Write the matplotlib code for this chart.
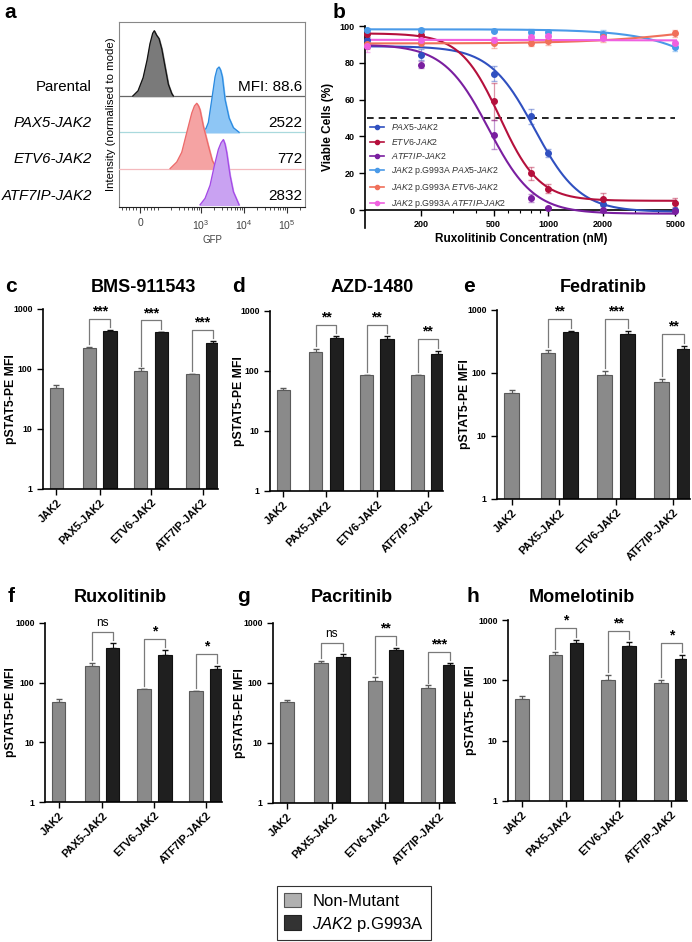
import numpy as np
import matplotlib

matplotlib.use("Agg")

import matplotlib.pyplot as plt
import matplotlib.transforms as mtransforms
from matplotlib.lines import Line2D
from matplotlib.patches import Patch
from matplotlib.ticker import LogLocator, NullFormatter, NullLocator

plt.rcParams["font.family"] = ["Liberation Sans", "DejaVu Sans"]
plt.rcParams["mathtext.fontset"] = "custom"
plt.rcParams["mathtext.rm"] = "Liberation Sans"
plt.rcParams["mathtext.it"] = "Liberation Sans:italic"
plt.rcParams["mathtext.bf"] = "Liberation Sans:bold"

W, H = 692, 942

# ---- panel a: GFP histograms (normalised to mode) ----
hist_names = ["Parental", "PAX5-JAK2", "ETV6-JAK2", "ATF7IP-JAK2"]
hist_mfi = ["MFI: 88.6", "2522", "772", "2832"]
parental_gfp = [-40, -11, 17, 39, 55, 70, 79, 92, 105, 122, 145, 173, 207, 226]
parental_h = [0, 0.08, 0.28, 0.55, 0.8, 0.96, 1.0, 0.93, 0.88, 0.72, 0.45, 0.18, 0.04, 0]
pax5_gfp = [1069, 1300, 1472, 1767, 2109, 2350, 2612, 2850, 3119, 3606, 4467, 5623, 7621]
pax5_h = [0, 0.06, 0.15, 0.5, 0.85, 0.97, 1.0, 0.95, 0.85, 0.5, 0.22, 0.07, 0]
etv6_gfp = [190, 271, 355, 463, 606, 700, 792, 870, 944, 1127, 1472, 1824, 2312]
etv6_h = [0, 0.1, 0.25, 0.55, 0.85, 0.96, 1.0, 0.96, 0.9, 0.65, 0.35, 0.12, 0]
atf7ip_gfp = [944, 1236, 1614, 2032, 2518, 2900, 3289, 3600, 3945, 4710, 5623, 7621]
atf7ip_h = [0, 0.1, 0.3, 0.6, 0.85, 0.95, 1.0, 0.93, 0.8, 0.45, 0.2, 0]

# ---- panel b: ruxolitinib dose response ----
conc = [100, 200, 500, 800, 1000, 2000, 5000]
dose_labels = [
    r"$\it{PAX5}$-$\it{JAK2}$",
    r"$\it{ETV6}$-$\it{JAK2}$",
    r"$\it{ATF7IP}$-$\it{JAK2}$",
    r"$\it{JAK2}$ p.G993A $\it{PAX5}$-$\it{JAK2}$",
    r"$\it{JAK2}$ p.G993A $\it{ETV6}$-$\it{JAK2}$",
    r"$\it{JAK2}$ p.G993A $\it{ATF7IP}$-$\it{JAK2}$",
]
viable = [
    [92.5, 84.5, 74, 51, 31, 3, 0],
    [95.5, 95, 59, 20, 11.5, 6, 4],
    [89, 79, 41, 6.5, 1, 0, -0.5],
    [98, 98, 97.5, 97, 96.5, 95.5, 88.5],
    [90, 91, 90.5, 91, 92, 94, 96],
    [89, 92.5, 92.5, 94, 94.5, 93.5, 91],
]
viable_err = [
    [1.5, 3, 4, 4, 2, 1, 1],
    [1.5, 2, 10, 3.5, 2.5, 3, 2.5],
    [1, 2, 8, 2, 0.5, 0.5, 0.5],
    [1, 1, 1, 1.5, 1.5, 2.5, 2],
    [2.5, 2, 2.5, 2, 2.5, 2.5, 2],
    [3, 1, 1.5, 1, 1, 1, 1],
]
# fitted 4PL parameters: top, bottom, IC50 (nM), hill slope
fit_top = [89, 96, 90, 98.2, 90.5, 92.5]
fit_bottom = [-1, 5, -2, 0, 104, 92]
fit_ic50 = [840, 540, 470, 15000, 7000, 3000]
fit_hill = [3.5, 4, 3.5, 2, 1.5, 1]
dose_colors = ["#3050c0", "#b5103c", "#7a1fa0", "#4a9ae8", "#f0705a", "#f060e0"]

# ---- panels c-h: pSTAT5 MFI ----
groups = ["JAK2", "PAX5-JAK2", "ETV6-JAK2", "ATF7IP-JAK2"]
drugs = ["BMS-911543", "AZD-1480", "Fedratinib", "Ruxolitinib", "Pacritinib", "Momelotinib"]
letters = ["c", "d", "e", "f", "g", "h"]
gray_mfi = [
    [48, 226, 93, 83],
    [48, 210, 86, 85],
    [48, 205, 92, 73],
    [48, 190, 78, 72],
    [48, 213, 109, 82],
    [49, 264, 102, 90],
]
gray_err = [
    [6, 9, 9, 1],
    [5, 23, 1, 2],
    [5, 29, 14, 6],
    [6, 25, 1, 1],
    [5, 22, 15, 9],
    [6, 28, 19, 10],
]
black_mfi = [
    [430, 409, 275],
    [359, 341, 192],
    [443, 416, 240],
    [375, 290, 169],
    [275, 355, 200],
    [422, 377, 224],
]
black_err = [
    [10, 6, 15],
    [24, 42, 26],
    [15, 42, 25],
    [80, 62, 23],
    [25, 33, 13],
    [46, 51, 40],
]
significance = [
    ["***", "***", "***"],
    ["**", "**", "**"],
    ["**", "***", "**"],
    ["ns", "*", "*"],
    ["ns", "**", "***"],
    ["*", "**", "*"],
]


def box(x0, y0, x1, y1):
    return [x0 / W, 1 - y1 / H, (x1 - x0) / W, (y1 - y0) / H]


def fig_text(fig, x, y, s, **kw):
    fig.text(x / W, 1 - y / H, s, **kw)


fig = plt.figure(figsize=(W / 100, H / 100), dpi=100)

# ---------------- panel a ----------------
ax_a = fig.add_axes(box(119, 22, 305, 207))
ax_a.set_xscale("symlog", linthresh=100, linscale=0.378)
ax_a.set_xlim(-117, 2.6e5)
ax_a.set_ylim(-0.06, 5.04)
hist_x = [parental_gfp, pax5_gfp, etv6_gfp, atf7ip_gfp]
hist_y = [parental_h, pax5_h, etv6_h, atf7ip_h]
fills = ["#7a7a7a", "#8ec6f5", "#f5a3a3", "#c9a2f2"]
edges = ["#111111", "#2a8ae0", "#ec6a6a", "#a448e6"]
lane_lines = ["#666666", "#a9d9dd", "#f4b9bd", None]
baselines = [3, 2, 1, 0]
trans = mtransforms.blended_transform_factory(ax_a.transAxes, ax_a.transData)
for i in range(4):
    base = baselines[i]
    if lane_lines[i]:
        ax_a.axhline(base, color=lane_lines[i], lw=0.9, zorder=1 + i)
    top = base + 1.8 * np.array(hist_y[i])
    ax_a.fill_between(hist_x[i], base, top, color=fills[i], zorder=2 + i)
    ax_a.plot(hist_x[i], top, color=edges[i], lw=0.9, zorder=2 + i)
    ax_a.text(-0.145, base + 0.25, hist_names[i], transform=trans, ha="right",
              va="center", fontsize=10.8, fontstyle="normal" if i == 0 else "italic")
    ax_a.text(0.984, base + 0.25, hist_mfi[i], transform=trans, ha="right",
              va="center", fontsize=11)
ax_a.set_xticks([0, 1e3, 1e4, 1e5])
ax_a.set_xticklabels(["0", r"$10^3$", r"$10^4$", r"$10^5$"], fontsize=7.5, color="#444444")
minor = [-100, -80, -60, -40, -20, 20, 40, 60, 80, 100]
minor += [m * d for d in (100, 1000, 10000) for m in range(2, 10)] + [2e5]
ax_a.set_xticks(minor, minor=True)
ax_a.tick_params(axis="x", which="major", length=4, width=0.8, color="#333333", pad=4)
ax_a.tick_params(axis="x", which="minor", length=2, width=0.6, color="#333333")
ax_a.set_yticks([])
for sp in ax_a.spines.values():
    sp.set_color("#888888")
    sp.set_linewidth(0.8)
ax_a.spines["bottom"].set_color("#222222")
ax_a.set_xlabel("GFP", fontsize=7, color="#444444", labelpad=2)
ax_a.set_ylabel("Intensity (normalised to mode)", fontsize=8.2, labelpad=2)

# ---------------- panel b ----------------
ax_b = fig.add_axes(box(365, 26, 677, 228.4))
ax_b.set_xscale("log")
ax_b.set_xlim(98, 5100)
ax_b.set_ylim(-10, 100)
ax_b.spines["bottom"].set_position(("data", 0))
ax_b.spines[["top", "right"]].set_visible(False)
for sp in ("left", "bottom"):
    ax_b.spines[sp].set_linewidth(1.2)
xs = np.geomspace(98, 5100, 300)
handles = []
for i in range(6):
    fit = fit_bottom[i] + (fit_top[i] - fit_bottom[i]) / (1 + (xs / fit_ic50[i]) ** fit_hill[i])
    ax_b.plot(xs, fit, color=dose_colors[i], lw=1.5, zorder=3)
    ax_b.errorbar(conc, viable[i], yerr=viable_err[i], fmt="none", ecolor=dose_colors[i],
                  alpha=0.45, capsize=2.5, elinewidth=0.9, zorder=2)
    ax_b.plot(conc, viable[i], "o", color=dose_colors[i], ms=4, zorder=4, clip_on=False)
    handles.append(Line2D([], [], color=dose_colors[i], lw=1.2, marker="o", ms=3))
ax_b.hlines(50, 100, 5000, colors="black", linestyles=(0, (4, 3)), lw=1.2, zorder=1)
ax_b.set_xticks([200, 500, 1000, 2000, 5000])
ax_b.set_xticklabels(["200", "500", "1000", "2000", "5000"], fontsize=6.5, fontweight="bold")
ax_b.xaxis.set_minor_locator(LogLocator(subs=range(2, 10)))
ax_b.xaxis.set_minor_formatter(NullFormatter())
ax_b.set_yticks([0, 20, 40, 60, 80, 100])
ax_b.set_yticklabels(["0", "20", "40", "60", "80", "100"], fontsize=6.5, fontweight="bold")
ax_b.tick_params(which="major", length=4, width=1)
ax_b.tick_params(which="minor", length=2.5, width=0.8)
ax_b.set_ylabel("Viable Cells (%)", fontsize=8.5, fontweight="bold", labelpad=4)
ax_b.set_xlabel("Ruxolitinib Concentration (nM)", fontsize=8.5, fontweight="bold")
ax_b.xaxis.set_label_coords(0.5, -0.025)
ax_b.legend(handles, dose_labels, loc="upper left", bbox_to_anchor=(0.0, 0.555),
            frameon=False, fontsize=6.3, handlelength=1.6, handletextpad=0.8,
            labelspacing=0.38, borderaxespad=0.2, labelcolor="#333333")

# ---------------- panels c-h ----------------
bar_boxes = [
    (43, 309, 218, 489),
    (270, 311, 443, 491),
    (497, 310, 690, 499),
    (45, 623, 222, 802),
    (273, 623, 455, 803),
    (508, 620, 687, 801),
]
ylabel_x = [12, 240, 466, 12, 241, 472]
title_pos = [(143, 287), (372, 287), (603, 287), (120, 597), (352, 597), (582, 597)]
letter_pos = [(5, 287), (232, 287), (463, 287), (8, 597), (237, 597), (466, 597)]
group_x = np.array([0.16, 1, 2, 3])
off = 0.2
bw = 0.26
gray_col, gray_edge = "#8a8a8a", "#5a5a5a"
black_col, black_edge = "#1f1f1f", "#111111"

for k in range(6):
    x0b, y0b, x1b, y1b = bar_boxes[k]
    ax = fig.add_axes(box(*bar_boxes[k]))
    ax.set_yscale("log")
    ax.set_ylim(1, 1000)
    ax.set_xlim(-0.1, 3.3)
    gx = np.concatenate([[group_x[0]], group_x[1:] - off])
    bx = group_x[1:] + off
    g = np.array(gray_mfi[k], dtype=float)
    b = np.array(black_mfi[k], dtype=float)
    ge = np.array(gray_err[k], dtype=float)
    be = np.array(black_err[k], dtype=float)
    ax.bar(gx, g, width=bw, color=gray_col, edgecolor=gray_edge, lw=0.8, zorder=2)
    ax.bar(bx, b, width=bw, color=black_col, edgecolor=black_edge, lw=0.8, zorder=2)
    ax.errorbar(gx, g, yerr=[np.zeros_like(ge), ge], fmt="none", ecolor=gray_edge,
                capsize=2.5, elinewidth=0.8, zorder=1)
    ax.errorbar(bx, b, yerr=[np.zeros_like(be), be], fmt="none", ecolor=black_edge,
                capsize=2.5, elinewidth=0.8, zorder=1)
    for j in range(3):
        g_top = g[j + 1] + ge[j + 1]
        b_top = b[j] + be[j]
        top = max(g_top, b_top) * 1.55
        x0, x1 = gx[j + 1], bx[j]
        ax.plot([x0, x0, x1, x1], [g_top * 1.12, top, top, b_top * 1.12],
                color="#7a7a7a", lw=0.9, clip_on=False)
        s = significance[k][j]
        if s == "ns":
            ax.text((x0 + x1) / 2, top * 1.12, s, ha="center", va="bottom",
                    fontsize=8.5, clip_on=False)
        else:
            ax.text((x0 + x1) / 2, top * 1.02, s, ha="center", va="bottom",
                    fontsize=10, fontweight="bold", clip_on=False)
    ax.set_xticks(group_x)
    ax.set_xticklabels(groups, rotation=45, ha="right", rotation_mode="anchor",
                       fontsize=7.8, fontweight="bold")
    ax.set_yticks([1, 10, 100, 1000])
    ax.set_yticklabels(["1", "10", "100", "1000"], fontsize=6.3, fontweight="bold")
    ax.yaxis.set_minor_locator(NullLocator())
    ax.spines[["top", "right"]].set_visible(False)
    for sp in ("left", "bottom"):
        ax.spines[sp].set_linewidth(1.2)
    ax.tick_params(length=4, width=1)
    ax.tick_params(axis="x", pad=2)
    ax.set_ylabel("pSTAT5-PE MFI", fontsize=8.8, fontweight="bold")
    ax.yaxis.set_label_coords((ylabel_x[k] + 5 - x0b) / (x1b - x0b), 0.5)
    fig_text(fig, *title_pos[k], drugs[k], ha="center", va="center",
             fontsize=13, fontweight="bold")
    fig_text(fig, *letter_pos[k], letters[k], ha="left", va="center",
             fontsize=15, fontweight="bold")

fig_text(fig, 4, 12, "a", ha="left", va="center", fontsize=15, fontweight="bold")
fig_text(fig, 333, 12, "b", ha="left", va="center", fontsize=15, fontweight="bold")

leg_handles = [
    Patch(facecolor="#b0b0b0", edgecolor="#555555", lw=0.8),
    Patch(facecolor="#333333", edgecolor="#222222", lw=0.8),
]
leg = fig.legend(leg_handles, ["Non-Mutant", r"$\it{JAK2}$ p.G993A"], loc="center",
                 bbox_to_anchor=(354 / W, 1 - 913 / H), fontsize=12, fancybox=False,
                 edgecolor="black", handlelength=1.0, handleheight=1.0,
                 handletextpad=0.7, labelspacing=0.35, borderpad=0.4)
leg.get_frame().set_linewidth(0.8)

fig.savefig("out.png", dpi=100)
plt.close(fig)
